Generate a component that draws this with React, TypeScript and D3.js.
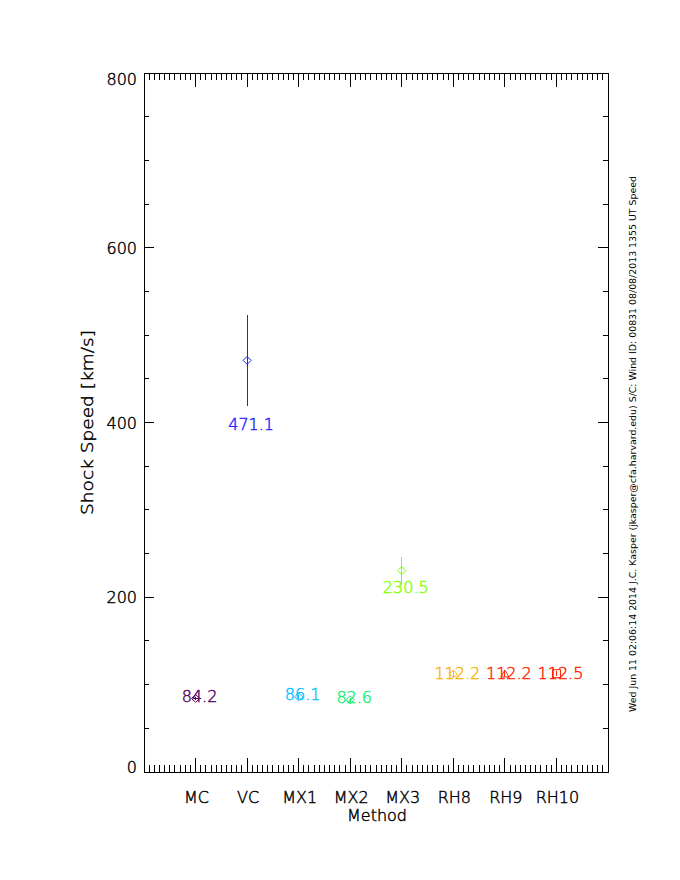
import React from "react";
import * as d3 from "d3";

const methods = ["MC", "VC", "MX1", "MX2", "MX3", "RH8", "RH9", "RH10"];
const speeds = [84.2, 471.1, 86.1, 82.6, 230.5, 112.2, 112.2, 112.5];
const errors = [2, 52.5, 2, 2, 16, 3, 3, 3];
const colors = ["#560064", "#1f1fff", "#00c4ff", "#18f070", "#80ff00", "#f8b400", "#ff2a00", "#ff1c00"];
const symbols = ["diamond", "diamond", "diamond", "diamond", "diamond", "diamond", "triangle", "square"];
const yTicks = [0, 200, 400, 600, 800];
const footer =
  "Wed Jun 11 02:06:14 2014  J.C. Kasper (jkasper@cfa.harvard.edu)  S/C: Wind ID: 00831 08/08/2013  1355 UT Speed";

const W = 680;
const H = 880;
const M = { left: 144, right: 608, top: 73, bottom: 772 };
const FONT = "'DejaVu Sans ExtraLight', 'DejaVu Sans Light', 'DejaVu Sans', sans-serif";
const TS = 0.45;

export default function App() {
  const x = d3.scaleLinear().domain([0, methods.length + 1]).range([M.left, M.right]);
  const y = d3.scaleLinear().domain([0, 800]).range([M.bottom, M.top]);

  const xMinor = d3.range(1, (methods.length + 1) * 10).map((i) => i / 10).filter((v) => Math.abs(v - Math.round(v)) > 1e-6);
  const xMajor = d3.range(1, methods.length + 1);
  const yMinor = d3.range(50, 800, 50).filter((v) => v % 200 !== 0);
  const yMajor = yTicks.filter((v) => v > 0 && v < 800);

  const xMajLen = 14, xMinLen = 7, yMajLen = 10, yMinLen = 5;

  const symbolPath = (kind: string) => {
    if (kind === "triangle") return "M0,-4L4,3L-4,3Z";
    if (kind === "square") return "M-4,-4L4,-4L4,4L-4,4Z";
    return "M0,-4L4,0L0,4L-4,0Z";
  };

  return (
    <svg width={W} height={H} style={{ position: "absolute", left: 0, top: 0, background: "#fff" }}>
      <rect x={0} y={0} width={W} height={H} fill="#fff" />
      {/* frame */}
      <rect x={M.left} y={M.top} width={M.right - M.left} height={M.bottom - M.top} fill="none" stroke="#000" strokeWidth={1} shapeRendering="crispEdges" />
      <g stroke="#000" strokeWidth={1} shapeRendering="crispEdges">
        {xMinor.map((v) => (
          <g key={"xm" + v}>
            <line x1={x(v)} x2={x(v)} y1={M.bottom} y2={M.bottom - xMinLen} />
            <line x1={x(v)} x2={x(v)} y1={M.top} y2={M.top + xMinLen} />
          </g>
        ))}
        {xMajor.map((v) => (
          <g key={"xM" + v}>
            <line x1={x(v)} x2={x(v)} y1={M.bottom} y2={M.bottom - xMajLen} />
            <line x1={x(v)} x2={x(v)} y1={M.top} y2={M.top + xMajLen} />
          </g>
        ))}
        {yMinor.map((v) => (
          <g key={"ym" + v}>
            <line x1={M.left} x2={M.left + yMinLen} y1={y(v)} y2={y(v)} />
            <line x1={M.right} x2={M.right - yMinLen} y1={y(v)} y2={y(v)} />
          </g>
        ))}
        {yMajor.map((v) => (
          <g key={"yM" + v}>
            <line x1={M.left} x2={M.left + yMajLen} y1={y(v)} y2={y(v)} />
            <line x1={M.right} x2={M.right - yMajLen} y1={y(v)} y2={y(v)} />
          </g>
        ))}
      </g>
      {/* y tick labels */}
      <g fontFamily={FONT} fontWeight={200} fontSize={16} fill="#000" stroke="#000" strokeWidth={TS} textAnchor="end">
        {yTicks.map((v) => {
          const yy = Math.min(Math.max(y(v) + 6, M.top + 12), M.bottom + 1);
          return (
            <text key={"yl" + v} x={137} y={yy}>
              {v}
            </text>
          );
        })}
      </g>
      {/* x tick labels */}
      <g fontFamily={FONT} fontWeight={200} fontSize={16} fill="#000" stroke="#000" strokeWidth={TS} textAnchor="middle">
        {methods.map((m, i) => (
          <text key={"xl" + m} x={x(i + 1) + 1} y={803}>
            {m}
          </text>
        ))}
      </g>
      <text x={(M.left + M.right) / 2 + 1} y={821} fontFamily={FONT} fontWeight={200} fontSize={16} textAnchor="middle" fill="#000" stroke="#000" strokeWidth={TS}>
        Method
      </text>
      <text
        transform={`translate(93,${(M.top + M.bottom) / 2}) rotate(-90)`}
        fontFamily={FONT}
        fontWeight={200}
        fontSize={16}
        textAnchor="middle"
        fill="#000"
        stroke="#000"
        strokeWidth={TS}
        textLength={185}
        lengthAdjust="spacingAndGlyphs"
      >
        Shock Speed [km/s]
      </text>
      {/* data */}
      {methods.map((m, i) => {
        const cx = x(i + 1);
        const v = speeds[i];
        const e = errors[i];
        return (
          <g key={"d" + m} stroke={colors[i]} fill="none">
            <line x1={cx} x2={cx} y1={y(v - e)} y2={y(v + e)} strokeWidth={1} shapeRendering="crispEdges" />
            <path d={symbolPath(symbols[i])} transform={`translate(${cx},${y(v)})`} strokeWidth={1} />
            <text
              x={cx + 4}
              y={y(v - 1.5 * e) + 1}
              strokeWidth={TS}
              fill={colors[i]}
              fontFamily={FONT}
              fontWeight={200}
              fontSize={16}
              textAnchor="middle"
            >
              {v.toFixed(1)}
            </text>
          </g>
        );
      })}
      {/* footer */}
      <text
        transform="translate(636,712) rotate(-90)"
        fontFamily="'DejaVu Sans', sans-serif"
        fontSize={9}
        fill="#000"
        textLength={536}
        lengthAdjust="spacingAndGlyphs"
      >
        {footer}
      </text>
    </svg>
  );
}
